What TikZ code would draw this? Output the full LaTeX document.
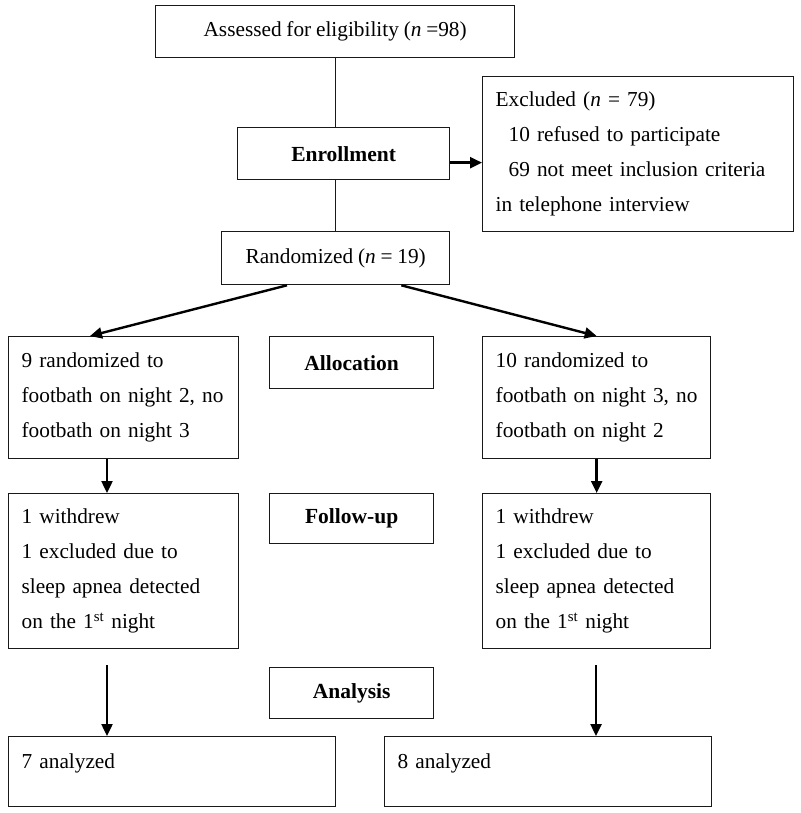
\documentclass[tikz,border=0pt]{standalone}
\usepackage{fontspec}
\setmainfont{Liberation Serif}[WordSpace=0.9]
\usetikzlibrary{arrows.meta,calc}
\begin{document}
\begin{tikzpicture}[x=1pt,y=-1pt,
  box/.style={draw=black!90, line width=1.3pt, inner xsep=13pt, inner ysep=0pt,
    anchor=north west, font=\fontsize{21.3}{35}\selectfont},
  lbox/.style={box, align=left},
  cbox/.style={box, align=center},
  lab/.style={cbox, font=\fontsize{21.5}{35}\selectfont\bfseries},
  arr/.style={draw=black, line width=2.4pt, -{Triangle[length=12pt,width=11pt]}},
  link/.style={draw=black!90, line width=1.2pt}
]
\useasboundingbox (0,0) rectangle (800,813);

\node[cbox, minimum width=359pt, minimum height=52pt] (assess) at (155,5)
  {Assessed for eligibility (\textit{n} =98)};
\node[lab, minimum width=212pt, minimum height=52pt] (enroll) at (237,127) {Enrollment};
\node[lbox, text width=285pt, minimum height=155pt] (excl) at (482,76)
  {Excluded (\textit{n} = 79)\\
   \hspace*{13pt}10 refused to participate\\
   \hspace*{13pt}69 not meet inclusion criteria\\
   in telephone interview};
\node[cbox, minimum width=228pt, minimum height=53pt] (rand) at (221,231)
  {Randomized (\textit{n} = 19)};

\node[lbox, text width=204pt, minimum height=122pt] (allocL) at (8,336)
  {9 randomized to\\ footbath on night 2, no\\ footbath on night 3};
\node[lab, minimum width=164pt, minimum height=52pt] (alloc) at (269,336) {Allocation};
\node[lbox, text width=202pt, minimum height=122pt] (allocR) at (482,336)
  {10 randomized to\\ \mbox{footbath on night 3, no}\\ footbath on night 2};

\node[lbox, text width=204pt, minimum height=155pt] (fuL) at (8,493)
  {1 withdrew\\ 1 excluded due to\\ sleep apnea detected\\ on the 1\textsuperscript{st} night};
\node[lab, minimum width=164pt, minimum height=50pt] (fu) at (269,493) {Follow-up};
\node[lbox, text width=202pt, minimum height=155pt] (fuR) at (482,493)
  {1 withdrew\\ 1 excluded due to\\ sleep apnea detected\\ on the 1\textsuperscript{st} night};

\node[lab, minimum width=164pt, minimum height=51pt] (ana) at (269,667) {Analysis};
\node[box, text width=301pt, text height=32pt, text depth=38pt, align=left] (anL) at (8,736)
  {7 analyzed};
\node[box, text width=301pt, text height=32pt, text depth=38pt, align=left] (anR) at (384,736)
  {8 analyzed};

% connectors
\draw[link] (assess.south) -- (assess.south |- enroll.north);
\draw[link] (enroll.south -| rand.north) -- (rand.north);
\draw[arr] ([yshift=-9pt]enroll.east) -- ([yshift=-9pt]enroll.east -| excl.west);
\draw[arr] ([xshift=66pt]rand.south west) -- ([xshift=82pt]allocL.north west);
\draw[arr] ([xshift=-49pt]rand.south east) -- (allocR.north);
\draw[arr] ([xshift=99pt]allocL.south west) -- ([xshift=99pt]allocL.south west |- fuL.north);
\draw[arr] (allocR.south) -- (fuR.north);
\coordinate (sL) at (107,665);
\coordinate (sR) at (596,665);
\draw[arr] (sL) -- (sL |- anL.north);
\draw[arr] (sR) -- (sR |- anR.north);
\end{tikzpicture}
\end{document}
